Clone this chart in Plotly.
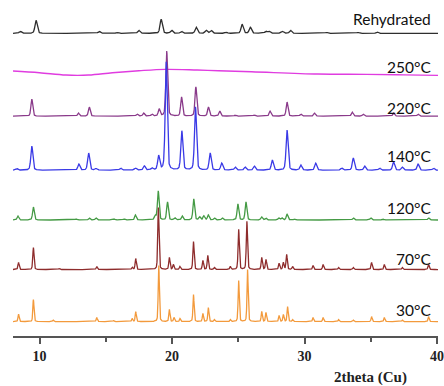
import numpy as np
import plotly.graph_objects as go

# ---------------- data ----------------
labels = ["Rehydrated", "250°C", "220°C", "140°C", "120°C", "70°C", "30°C"]

# peak positions (2theta, deg) and heights (a.u.) for each pattern
rehyd_pos = [8.55, 9.74, 14.5, 15.87, 17.49, 19.18, 19.97, 20.71, 21.83, 22.58, 22.95,
             24.1, 25.29, 25.91, 27.08, 27.33, 28.32, 28.94, 31.67, 34.03, 35.47]
rehyd_int = [2, 13, 2, 1, 3, 14, 3, 2, 6, 3, 3,
             1, 9, 6, 2, 2, 2, 3, 1, 1, 1.5]

# 250 °C: amorphous, broad profile points
amorph_pos = [8.0, 10.0, 12.0, 13.7, 15.5, 17.5, 19.5, 21.9, 23.5, 26.0, 31.0, 34.7, 37.5, 40.07]
amorph_int = [4.7, 3.0, 0.7, 0.7, 3.0, 5.0, 6.4, 5.7, 5.0, 4.0, 1.7, 1.4, 0.9, 0.4]

t220_pos = [9.42, 12.94, 13.76, 17.36, 17.86, 18.48, 19.03, 19.6, 20.72, 21.8, 22.75, 23.6,
            24.77, 26.21, 27.4, 28.68, 29.72, 30.75, 33.6, 34.43, 36.72, 38.57]
t220_int = [17, 3, 9, 2, 3, 2, 7, 65, 19, 29, 9, 5,
            1, 1, 5, 14, 2, 3, 4, 2, 3, 2]

t140_pos = [8.3, 9.42, 12.97, 13.71, 14.26, 16.12, 17.24, 17.91, 18.48, 18.99, 19.56, 20.74,
            21.77, 22.88, 23.75, 24.77, 25.52, 26.21, 27.57, 28.68, 29.72, 30.84, 32.81,
            33.68, 34.54, 35.66, 36.72, 37.38, 38.57, 39.73]
t140_int = [1.5, 24, 6, 17, 1.5, 2, 2, 4, 2, 14, 108, 39,
            63, 17, 7, 3, 3, 4, 10, 40, 5, 7, 2,
            12, 4, 2, 8, 3, 6, 2]

t120_pos = [8.37, 9.54, 12.77, 13.76, 14.26, 15.63, 16.37, 17.24, 18.73, 18.96, 19.66, 20.22,
            20.77, 21.64, 22.09, 22.40, 22.74, 23.2, 23.79, 24.97, 25.58, 26.76, 27.08,
            28.06, 28.30, 28.68, 29.23, 33.68, 35.0, 35.9, 39.36]
t120_int = [4, 13, 1, 2, 2, 1, 1, 5, 4, 29, 18, 2,
            4, 21, 3, 4, 5, 2, 2, 16, 18, 3, 2,
            2, 2, 6, 1, 2, 2, 1, 2]

t70_pos = [8.42, 9.54, 11.5, 14.32, 17.0, 17.26, 18.97, 19.8, 20.1, 20.6, 21.62, 22.33,
           22.70, 23.2, 24.4, 25.03, 25.65, 26.77, 27.09, 28.08, 28.40, 28.65, 29.10,
           30.64, 31.40, 32.57, 33.68, 35.06, 36.02, 37.38, 39.36]
t70_int = [7, 22, 1, 3, 2, 11, 62, 12, 5, 3, 28, 9,
           14, 2, 3, 40, 48, 12, 10, 6, 7, 15, 3,
           4, 5, 2, 2, 7, 5, 2, 5]

t30_pos = [8.42, 9.54, 11.03, 14.32, 15.6, 16.99, 17.26, 19.0, 19.8, 20.15, 20.6, 21.62,
           22.33, 22.74, 23.2, 24.4, 25.03, 25.70, 26.77, 27.09, 28.08, 28.40, 28.72,
           29.10, 30.64, 31.40, 32.57, 33.68, 35.06, 36.02, 37.38, 39.36]
t30_int = [7.5, 22, 1.5, 4, 1, 3, 10, 56, 12, 4, 3, 27,
           8, 14, 2, 2, 41, 52, 10, 9, 6, 7, 15,
           2, 4, 4, 2, 1.5, 5, 4, 1.5, 5]

tick_vals = [10, 20, 30, 40]
tick_text = ["10", "20", "30", "40"]

# ---------------- styling / layout ----------------
offsets = [302.4, 260.0, 219.7, 165.7, 115.9, 66.4, 14.4]
colors = ["#2e2e2e", "#e03ce0", "#8a3a8a", "#3a3ae6", "#449a44", "#8e2c2c", "#f39a3c"]
fwhm = [0.20, None, 0.16, 0.18, 0.15, 0.11, 0.10]
label_y = [316.7, 269.0, 227.4, 179.7, 127.4, 77.4, 25.7]

xmin, xmax = 8.0, 40.07
grid = np.arange(xmin, xmax + 0.005, 0.01)


def pattern(pos, inten, w, eta=0.35):
    y = np.zeros_like(grid)
    for p, h in zip(pos, inten):
        d = (grid - p) / (w / 2.0)
        lor = 1.0 / (1.0 + d ** 2)
        gau = np.exp(-np.log(2) * d ** 2)
        y += h * (eta * lor + (1 - eta) * gau)
    return y


peak_sets = [(rehyd_pos, rehyd_int), None, (t220_pos, t220_int), (t140_pos, t140_int),
             (t120_pos, t120_int), (t70_pos, t70_int), (t30_pos, t30_int)]

fig = go.Figure()
for i, name in enumerate(labels):
    if peak_sets[i] is None:
        fig.add_trace(go.Scatter(
            x=amorph_pos, y=[offsets[i] + v for v in amorph_int], mode="lines",
            line=dict(color=colors[i], width=1.4, shape="spline"),
            name=name, showlegend=False, hoverinfo="skip"))
    else:
        pos, inten = peak_sets[i]
        y = offsets[i] + pattern(pos, inten, fwhm[i])
        fig.add_trace(go.Scatter(
            x=grid, y=y, mode="lines",
            line=dict(color=colors[i], width=1.3),
            name=name, showlegend=False, hoverinfo="skip"))

for i, name in enumerate(labels):
    fig.add_annotation(
        x=0.9885, xref="paper", y=label_y[i], yref="y",
        text=name, showarrow=False, xanchor="right", yanchor="middle",
        font=dict(family="Lato, Open Sans, sans-serif", size=15.5, color="#111111"))

fig.add_annotation(
    x=0.84, xref="paper", y=-0.123, yref="paper",
    text="<b>2theta (Cu)</b>", showarrow=False, xanchor="center", yanchor="middle",
    font=dict(family="Liberation Serif, serif", size=15, color="#222222"))

fig.update_layout(
    width=444, height=386,
    margin=dict(l=13, r=0, t=0, b=50),
    paper_bgcolor="white", plot_bgcolor="white",
    showlegend=False,
    xaxis=dict(range=[xmin, xmax], showgrid=False, zeroline=False,
               showline=True, linecolor="#555555", linewidth=2,
               ticks="outside", ticklen=6, tickwidth=1.5, tickcolor="#555555",
               tickvals=tick_vals, ticktext=["<b>%s</b>" % t for t in tick_text],
               ticklabeloverflow="allow",
               tickfont=dict(family="Liberation Serif, serif", size=14,
                             color="#222222"),
               minor=dict(tickvals=[15, 25, 35], ticks="outside", ticklen=4,
                          tickwidth=1.5, tickcolor="#555555")),
    yaxis=dict(range=[0, 335.7], visible=False, showgrid=False, zeroline=False),
)

fig.write_html("out.html")
